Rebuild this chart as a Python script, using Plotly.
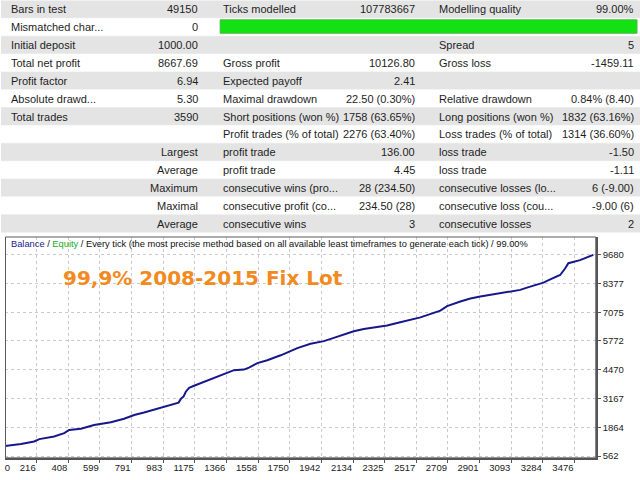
import plotly.graph_objects as go

W, H = 640, 480

# ---------------- data ----------------
col_a = ["Bars in test", "Mismatched char...", "Initial deposit", "Total net profit",
         "Profit factor", "Absolute drawd...", "Total trades", "", "", "", "", "", ""]
col_b = ["49150", "0", "1000.00", "8667.69", "6.94", "5.30", "3590", "",
         "Largest", "Average", "Maximum", "Maximal", "Average"]
col_c = ["Ticks modelled", "", "", "Gross profit", "Expected payoff", "Maximal drawdown",
         "Short positions (won %)", "Profit trades (% of total)", "profit trade",
         "profit trade", "consecutive wins (pro...", "consecutive profit (co...",
         "consecutive wins"]
col_d = ["107783667", "", "", "10126.80", "2.41", "22.50 (0.30%)", "1758 (63.65%)",
         "2276 (63.40%)", "136.00", "4.45", "28 (234.50)", "234.50 (28)", "3"]
col_e = ["Modelling quality", "", "Spread", "Gross loss", "", "Relative drawdown",
         "Long positions (won %)", "Loss trades (% of total)", "loss trade", "loss trade",
         "consecutive losses (lo...", "consecutive loss (cou...", "consecutive losses"]
col_f = ["99.00%", "", "5", "-1459.11", "", "0.84% (8.40)", "1832 (63.16%)",
         "1314 (36.60%)", "-1.50", "-1.11", "6 (-9.00)", "-9.00 (6)", "2"]

trade_no = [0, 60, 121, 201, 232, 322, 383, 413, 484, 564, 666, 746, 807, 867, 928,
            988, 1049, 1076, 1092, 1106, 1120, 1140, 1170, 1230, 1291, 1362, 1412,
            1472, 1503, 1554, 1614, 1695, 1735, 1796, 1876, 1957, 2017, 2098, 2138,
            2199, 2340, 2401, 2542, 2663, 2704, 2784, 2845, 2905, 3026, 3147, 3188,
            3288, 3329, 3389, 3419, 3439, 3510, 3590]
balance = [1000, 1047, 1114, 1226, 1334, 1450, 1603, 1751, 1805, 1975, 2096, 2253,
           2424, 2536, 2657, 2805, 2930, 2984, 3177, 3253, 3477, 3657, 3747, 3926,
           4105, 4298, 4451, 4478, 4567, 4769, 4899, 5124, 5262, 5451, 5644, 5765,
           5913, 6124, 6213, 6317, 6469, 6586, 6841, 7142, 7348, 7559, 7693, 7783,
           7931, 8084, 8187, 8411, 8559, 8756, 9050, 9290, 9429, 9668]

x_tick_labels = ["0", "216", "408", "599", "791", "983", "1175", "1366", "1558", "1750",
                 "1942", "2134", "2325", "2517", "2709", "2901", "3093", "3284", "3476"]
y_tick_labels = ["562", "1864", "3167", "4470", "5772", "7075", "8377", "9680"]

header_text = ("<span style='color:#1a1a8c'>Balance</span> / "
               "<span style='color:#22aa22'>Equity</span> / Every tick (the most precise "
               "method based on all available least timeframes to generate each tick) / 99.00%")
title_text = "99,9% 2008-2015 Fix Lot"

# ---------------- layout constants ----------------
X_RANGE = [27, 3605]
Y_RANGE = [486, 10475]
PLOT_L, PLOT_R, PLOT_T, PLOT_B = 4.5, 595.7, 239, 461.7
ROW_TOP, ROW_H = 0.5, 18.0
COLS = [(8, "left"), (199, "right"), (220, "left"), (416.5, "right"),
        (437, "left"), (635.5, "right")]
TEXT_COLOR = "#1e1e1e"
FONT = "Liberation Sans, Arial, sans-serif"


def px(x):
    return x / W


def py(y):
    return 1 - y / H


x_tick_values = [int(t) for t in x_tick_labels]
x_tick_pos = [max(v, X_RANGE[0] + 33) for v in x_tick_values]
y_tick_values = [int(t) for t in y_tick_labels]

fig = go.Figure()
fig.add_trace(go.Scatter(x=trade_no, y=balance, mode="lines",
                         line=dict(color="#17178c", width=2),
                         hoverinfo="skip", showlegend=False))

shapes = []
annotations = []

# table rows
n_rows = len(col_a)
for i in range(n_rows):
    top = ROW_TOP + i * ROW_H
    shapes.append(dict(type="rect", xref="paper", yref="paper",
                       x0=0, x1=1, y0=py(top + ROW_H), y1=py(top),
                       fillcolor="#e4e4e4" if i % 2 == 0 else "#ffffff",
                       line=dict(width=0), layer="below"))
    shapes.append(dict(type="line", xref="paper", yref="paper",
                       x0=0, x1=1, y0=py(top + ROW_H), y1=py(top + ROW_H),
                       line=dict(color="#f2f2f2", width=1), layer="below"))

# green modelling-quality bar (row 2)
shapes.append(dict(type="rect", xref="paper", yref="paper",
                   x0=px(219.5), x1=px(637), y0=py(33.5), y1=py(20),
                   fillcolor="#12e212", line=dict(color="#48b848", width=1)))

for ci, col in enumerate([col_a, col_b, col_c, col_d, col_e, col_f]):
    cx, align = COLS[ci]
    for ri, txt in enumerate(col):
        if not txt:
            continue
        cy = ROW_TOP + ri * ROW_H + ROW_H / 2
        annotations.append(dict(x=px(cx), y=py(cy), xref="paper", yref="paper",
                                text=txt, showarrow=False, xanchor=align,
                                yanchor="middle",
                                font=dict(family=FONT, size=11, color=TEXT_COLOR)))

# plot frame (thin)
shapes.append(dict(type="rect", xref="x domain", yref="y domain", x0=0, x1=1, y0=0, y1=1,
                   line=dict(color="#5a5a5a", width=1)))

annotations.append(dict(x=px(8), y=py(246), xref="paper", yref="paper",
                        text=header_text, showarrow=False, xanchor="left",
                        yanchor="middle",
                        font=dict(family=FONT, size=9.3, color="#111111")))
annotations.append(dict(x=px(60), y=py(280.5), xref="paper", yref="paper",
                        text=title_text, showarrow=False, xanchor="left",
                        yanchor="middle",
                        font=dict(family="DejaVu Sans", size=20, color="#f28a22",
                                  weight="bold")))

fig.update_layout(
    width=W, height=H,
    margin=dict(l=0, r=0, t=0, b=0),
    paper_bgcolor="#ffffff", plot_bgcolor="#ffffff",
    shapes=shapes, annotations=annotations,
    xaxis=dict(domain=[px(PLOT_L), px(PLOT_R)], range=X_RANGE,
               tickvals=x_tick_pos, ticktext=x_tick_labels,
               ticklabelposition="outside left", ticks="", showgrid=False,
               zeroline=False, showline=True, linecolor="#555555", linewidth=2,
               tickfont=dict(family=FONT, size=9.5, color="#222222"),
               minor=dict(tickvals=x_tick_values[1:], showgrid=True,
                          gridcolor="#cacaca", griddash="3px,3px", gridwidth=1,
                          ticks="outside", ticklen=3, tickcolor="#555555")),
    yaxis=dict(domain=[py(PLOT_B), py(PLOT_T)], range=Y_RANGE, side="right",
               tickvals=y_tick_values, ticktext=y_tick_labels,
               showgrid=True, gridcolor="#cacaca", griddash="3px,3px", gridwidth=1,
               zeroline=False, showline=True, linecolor="#555555", linewidth=2,
               ticks="outside", ticklen=3, tickcolor="#555555",
               tickfont=dict(family=FONT, size=9.5, color="#222222")),
)

fig.write_html("out.html",
               config={"displayModeBar": False},
               post_script="document.body.style.margin='0';"
                           "document.body.style.overflow='hidden';")
